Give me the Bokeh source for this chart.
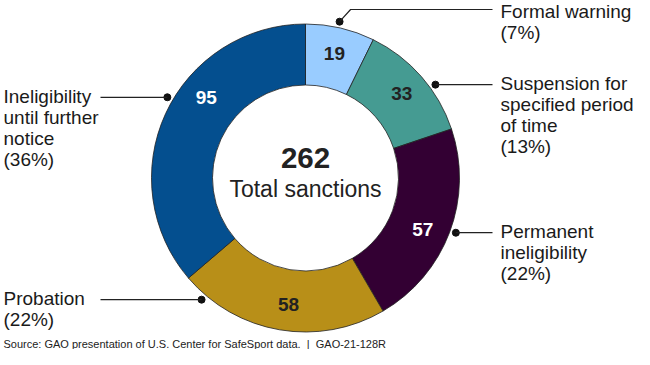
import numpy as np
from bokeh.plotting import figure
from bokeh.models import Range1d, ColumnDataSource
from bokeh.core.properties import value
from bokeh.embed import file_html
from bokeh.resources import INLINE

# ---- data ----
categories = ["Formal warning", "Suspension for specified period of time",
              "Permanent ineligibility", "Probation", "Ineligibility until further notice"]
counts = [19, 33, 57, 58, 95]
percent_labels = ["(7%)", "(13%)", "(22%)", "(22%)", "(36%)"]
label_lines = [["Formal warning"], ["Suspension for", "specified period", "of time"],
               ["Permanent", "ineligibility"], ["Probation"],
               ["Ineligibility", "until further", "notice"]]
total_label = "Total sanctions"
source_note = "Source: GAO presentation of U.S. Center for SafeSport data.\u00a0\u00a0|\u00a0\u00a0GAO-21-128R"

# ---- style / layout ----
colors = ["#99CCFF", "#459B92", "#330033", "#B88F18", "#044F8F"]
value_text_colors = ["#222222", "#222222", "#FFFFFF", "#222222", "#FFFFFF"]
value_angle_shift = [0, 0, 3, -2, 14.5]          # degrees
dot_angles = [12.3, 54.3, 110, 220.5, 300.3]     # degrees clockwise from north
label_side = ["right", "right", "right", "left", "left"]

W, H = 634, 349
def X(px): return px
def Y(py): return H - py

cx, cy = X(305), Y(177.5)
r_in, r_out = 93, 154

p = figure(width=W, height=H, x_range=Range1d(0, W), y_range=Range1d(0, H),
           output_backend="svg", toolbar_location=None, min_border=0)
p.axis.visible = False
p.grid.visible = False
p.outline_line_color = None
p.background_fill_color = "white"

total = sum(counts)
cum = np.concatenate([[0], np.cumsum(counts)])
starts = np.pi / 2 - 2 * np.pi * cum[:-1] / total
ends = np.pi / 2 - 2 * np.pi * cum[1:] / total

src = ColumnDataSource(dict(start=starts, end=ends, color=colors, cat=categories))
p.annular_wedge(x=cx, y=cy, inner_radius=r_in, outer_radius=r_out,
                start_angle="start", end_angle="end", direction="clock",
                fill_color="color", line_color="#222222", line_width=0.8, source=src)

# values inside segments
mid_deg = 360 * (cum[:-1] + np.array(counts) / 2) / total + np.array(value_angle_shift)
r_lab = 128
vx = cx + r_lab * np.sin(np.radians(mid_deg))
vy = cy + r_lab * np.cos(np.radians(mid_deg))
p.text(x=vx, y=vy, text=[str(c) for c in counts], text_color=value_text_colors,
       text_align="center", text_baseline="middle", text_font=value("Liberation Sans"),
       text_font_size="19px", text_font_style="bold")

# center text
p.text(x=[cx], y=[Y(157)], text=[str(total)], text_align="center", text_baseline="middle",
       text_font=value("Liberation Sans"), text_font_size="29.5px", text_font_style="bold",
       text_color="#222222")
p.text(x=[cx], y=[Y(188)], text=[total_label], text_align="center", text_baseline="middle",
       text_font=value("Liberation Sans"), text_font_size="23px", text_color="#222222")

# leader dots and lines
r_dot = 160
dx = cx + r_dot * np.sin(np.radians(dot_angles))
dy = cy + r_dot * np.cos(np.radians(dot_angles))
p.scatter(x=dx, y=dy, size=7, color="#111111")

xs, ys = [], []
tx, ty, tt = [], [], []
line_gap = 21
for i in range(len(counts)):
    lines = label_lines[i] + [percent_labels[i]]
    if i == 0:
        ly = Y(9)
        xs.append([dx[i], dx[i] + 11, X(492)])
        ys.append([dy[i], ly, ly])
        first = ly - 2
        x_text = X(500)
    elif label_side[i] == "right":
        xs.append([dx[i], X(492)])
        ys.append([dy[i], dy[i]])
        first = dy[i] + 1
        x_text = X(500)
    else:
        xs.append([X(100), dx[i]])
        ys.append([dy[i], dy[i]])
        first = dy[i] + 1
        x_text = X(3)
    for k, t in enumerate(lines):
        tx.append(x_text)
        ty.append(first - k * line_gap)
        tt.append(t)

p.multi_line(xs=xs, ys=ys, line_color="#222222", line_width=1.2)
p.text(x=tx, y=ty, text=tt, text_align="left", text_baseline="middle",
       text_font=value("Liberation Sans"), text_font_size="19px", text_color="#1a1a1a")

# source note
p.text(x=[X(3)], y=[Y(343)], text=[source_note], text_align="left", text_baseline="middle",
       text_font=value("Liberation Sans"), text_font_size="11px", text_color="#222222")

open("out.html", "w").write(file_html(p, INLINE))
